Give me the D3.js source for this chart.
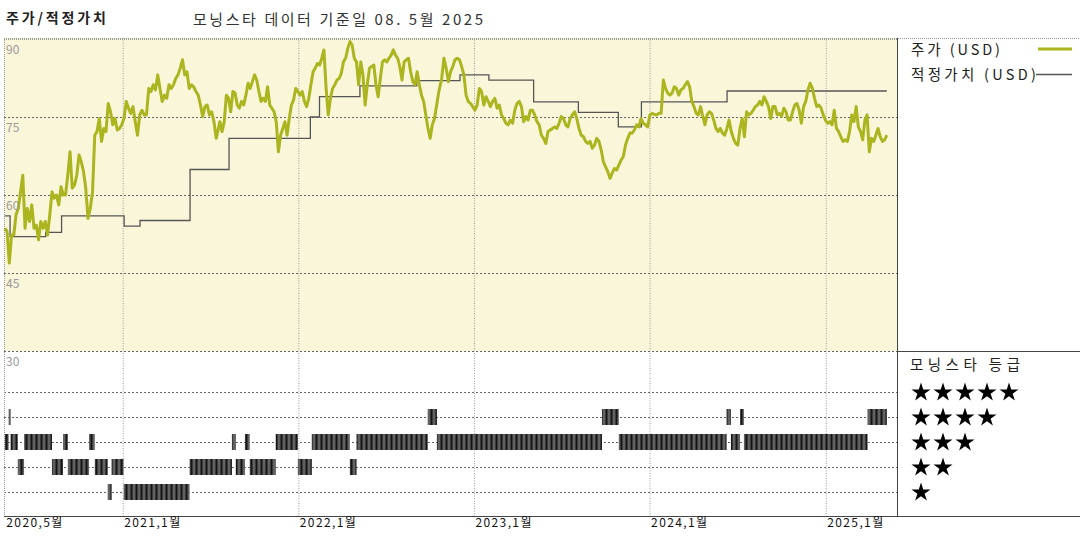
<!DOCTYPE html>
<html><head><meta charset="utf-8">
<script src="https://cdn.jsdelivr.net/npm/d3@7"></script>
<style>
body{margin:0;background:#fff}
svg{display:block}
text{font-family:"Noto Sans CJK KR","DejaVu Sans",sans-serif}
</style>
</head><body>
<svg id="c" width="1080" height="540"></svg>
<script>
// ---------- DATA ----------
const chartTitle = "주가/적정가치";
const dataDateText = "모닝스타 데이터 기준일 08. 5월 2025";
const legendPrice = "주가 (USD)";
const legendFair = "적정가치 (USD)";
const ratingTitle = "모닝스타 등급";

const yTicks = [90, 75, 60, 45, 30];
const xTickDates = ["2020-05-01","2021-01-01","2022-01-01","2023-01-01","2024-01-01","2025-01-01"];
const xTickLabels = ["2020,5월","2021,1월","2022,1월","2023,1월","2024,1월","2025,1월"];

// price, read in four consecutive stretches (values evenly spaced in time inside each stretch)
const priceSegStart = ["2020-05-01","2021-07-22","2022-10-26","2024-01-25"];
const priceSegEnd   = ["2021-07-19","2022-10-20","2024-01-20","2025-05-08"];
const priceA = [53.6,53.0,46.9,52.3,52.3,56.2,57.4,60.6,63.8,53.6,57.4,54.9,58.1,53.6,54.2,51.4,54.9,53.6,54.9,52.3,
  56.2,60.6,59.4,60.0,58.1,61.6,60.0,60.0,63.8,68.3,61.3,61.9,63.8,67.7,66.4,64.5,61.3,55.5,57.4,60.6,
  71.5,72.2,74.7,70.3,72.8,72.2,77.6,76.0,73.5,74.7,72.5,72.8,73.5,74.7,78.0,76.7,75.7,77.0,74.1,71.5,
  75.4,76.3,75.4,75.4,80.5,79.9,81.2,80.2,83.1,80.5,78.0,79.2,78.6,81.2,80.5,81.2,82.4,83.1,84.4,86.0,
  83.1,83.7,80.5,81.2,80.8,79.9,79.2,77.3,75.1,77.0,77.3,75.4,76.0,74.1,70.9,72.8];
const priceB = [74.1,72.2,74.1,79.2,78.6,76.0,79.9,79.6,77.3,76.7,78.0,77.3,79.2,81.5,80.5,81.8,83.1,82.1,79.9,78.0,
  78.6,78.0,80.8,77.3,76.7,76.0,74.1,68.3,71.5,72.8,74.1,71.5,74.7,77.3,78.3,80.5,79.9,79.2,79.9,78.0,
  77.0,78.6,81.2,83.7,84.4,85.3,85.0,86.3,87.9,80.5,75.4,78.6,80.5,81.2,82.1,82.4,83.4,85.6,86.3,88.2,
  89.5,88.85,86.3,85.6,81.2,85.6,83.1,77.3,81.2,84.4,84.7,85.0,81.2,78.9,82.4,85.6,86.0,85.6,86.3,86.9,
  87.9,86.9,86.3,84.7,82.1,85.6,86.0,86.3,83.7,81.8,81.2,83.7,81.2,79.2,78.0,75.4,72.8,70.9,73.5,74.7,
  77.3,79.9];
const priceC = [82.4,86.3,84.4,81.8,83.7,84.7,86.0,86.3,86.0,84.7,83.1,79.2,78.0,77.6,77.0,76.3,77.3,80.5,79.9,77.3,
  78.9,78.0,77.0,78.0,78.6,76.7,77.3,75.4,74.7,73.8,73.5,74.4,73.8,76.3,77.6,78.0,77.0,74.1,75.1,74.4,
  76.3,76.3,75.4,74.1,73.5,71.5,70.9,69.9,72.2,72.5,72.8,73.1,72.8,73.8,75.1,74.7,73.5,73.1,74.7,75.4,
  76.0,74.7,72.8,71.5,71.2,70.3,69.9,70.3,69.0,69.6,70.9,70.3,68.7,66.4,65.4,64.5,63.2,64.2,65.1,64.8,
  65.8,66.7,67.4,69.6,70.9,71.9,71.9,72.5,73.5,73.1,74.7,73.8,73.5,73.1,75.4,75.7,75.5,75.4,75.7];
const priceD = [75.7,82.1,80.5,79.6,79.2,79.6,80.8,80.5,79.2,80.2,80.5,81.2,81.8,80.8,78.0,77.0,75.7,75.4,77.0,75.1,
  73.5,75.4,76.0,75.7,74.4,72.8,72.2,72.8,71.9,71.5,72.8,74.4,72.2,70.9,69.9,69.6,72.8,74.7,71.2,76.0,
  75.4,75.7,76.3,77.0,77.3,78.0,77.3,78.9,78.0,77.0,74.7,77.0,77.0,75.4,75.7,75.1,76.7,76.0,74.4,74.4,
  76.0,77.3,77.6,76.3,73.8,77.0,78.0,80.2,81.5,80.5,78.6,77.0,77.3,76.7,75.4,74.4,73.8,74.1,73.5,76.3,
  72.8,72.2,71.2,70.3,70.6,70.3,72.2,75.4,74.1,77.0,73.1,72.2,70.6,74.4,75.4,68.3,70.9,70.3,71.5,72.8,
  71.2,70.3,70.6,71.5];

// fair value (step line)
const fvDates  = ["2020-05-01","2020-05-12","2020-07-25","2020-08-27","2021-01-04","2021-02-06","2021-05-21","2021-08-10",
  "2022-01-26","2022-02-14","2022-05-09","2022-09-04","2022-12-03","2023-02-01","2023-05-05","2023-08-06","2023-10-28",
  "2023-12-15","2024-06-10","2025-05-08"];
const fvValues = [56.0,52.0,52.8,56.0,54.0,55.1,64.9,70.9,75.0,78.9,81.0,82.0,83.1,82.1,77.9,75.9,73.1,77.9,80.0,80.0];

// star rating history: rating in force from each date to the next
const ratingDates = ["2020-05-01","2020-05-09","2020-05-13","2020-05-28","2020-06-10","2020-08-07","2020-08-30","2020-09-09",
  "2020-10-23","2020-11-04","2020-12-01","2020-12-09","2021-01-03","2021-05-20","2021-08-16","2021-08-24","2021-09-12",
  "2021-09-22","2021-11-15","2021-12-31","2022-01-29","2022-04-18","2022-05-02","2022-09-27","2022-10-16","2023-09-24",
  "2023-10-29","2024-06-09","2024-06-18","2024-07-07","2024-07-15","2025-03-29"];
const ratingValues = [3,4,3,2,3,2,3,2,3,2,1,2,1,2,3,2,3,2,3,2,3,2,3,4,3,4,3,4,3,4,3,4];
const ratingEnd = "2025-05-08";
const starRows = [5,4,3,2,1];

// ---------- CHART ----------
const parse = d3.utcParse("%Y-%m-%d");
const svg = d3.select("#c");
const L = 4, R = 897, T = 38, PB = 351, B = 516;

const x = d3.scaleUtc().domain([parse("2020-05-01"), parse("2025-05-25")]).range([4.8, 895]);
const y = d3.scaleLinear().domain([30, 90]).range([351, 39]);
const ry = d3.scaleLinear().domain([1, 5]).range([492, 392]);

// pattern for rating bars
const defs = svg.append("defs");
const pat = defs.append("pattern").attr("id","stripe").attr("patternUnits","userSpaceOnUse")
  .attr("width",5).attr("height",20);
pat.append("rect").attr("width",5).attr("height",20).attr("fill","#3a3a3a");
pat.append("rect").attr("x",3.6).attr("width",0.8).attr("height",20).attr("fill","#9a9a9a");
pat.append("rect").attr("x",1).attr("width",1).attr("height",20).attr("fill","#151515");

// backgrounds
svg.append("rect").attr("x",L).attr("y",T).attr("width",R-L).attr("height",PB-T).attr("fill","#faf6da");

// horizontal price gridlines
const gy = svg.append("g").attr("transform",`translate(${L},0)`)
  .call(d3.axisRight(y).tickValues(yTicks).tickSize(R-L).tickFormat(""));
gy.select(".domain").remove();
gy.selectAll(".tick line").attr("stroke", d => d===90 ? "#999" : "#666")
  .attr("stroke-dasharray", d => d===90 ? "1,1" : "2,2");

// rating row lines
const gr = svg.append("g").attr("transform",`translate(${L},0)`)
  .call(d3.axisRight(ry).tickValues(starRows).tickSize(R-L).tickFormat(""));
gr.select(".domain").remove();
gr.selectAll(".tick line").attr("stroke","#666").attr("stroke-dasharray","2,2");

// vertical gridlines
const gx = svg.append("g").attr("transform",`translate(0,${T})`)
  .call(d3.axisBottom(x).tickValues(xTickDates.slice(1).map(parse)).tickSize(B-T).tickFormat(""));
gx.select(".domain").remove();
gx.selectAll(".tick line").attr("stroke","#999").attr("stroke-dasharray","1,1.5");

// top dotted line across whole width & left border
svg.append("line").attr("x1",L).attr("x2",1080).attr("y1",T+0.5).attr("y2",T+0.5)
  .attr("stroke","#999").attr("stroke-dasharray","1,1");
svg.append("line").attr("x1",L+0.5).attr("x2",L+0.5).attr("y1",T).attr("y2",B)
  .attr("stroke","#999").attr("stroke-dasharray","1,1");

// fair value line
const fv = fvDates.map((d,i)=>({d:parse(d), v:fvValues[i]}));
svg.append("path").datum(fv)
  .attr("d", d3.line().x(p=>x(p.d)).y(p=>y(p.v)).curve(d3.curveStepAfter))
  .attr("fill","none").attr("stroke","#555").attr("stroke-width",1.3);

// price line
const segs = [priceA, priceB, priceC, priceD];
let price = [];
segs.forEach((arr,k)=>{
  const t0 = parse(priceSegStart[k]).getTime(), t1 = parse(priceSegEnd[k]).getTime();
  arr.forEach((v,i)=>price.push({d:new Date(t0 + (t1-t0)*i/(arr.length-1)), v}));
});
svg.append("path").datum(price)
  .attr("d", d3.line().x(p=>x(p.d)).y(p=>y(p.v)))
  .attr("fill","none").attr("stroke","#abb51f").attr("stroke-width",3).attr("stroke-linejoin","round");

// rating bars
const rt = ratingDates.map((d,i)=>({s:parse(d), e:parse(i<ratingDates.length-1?ratingDates[i+1]:ratingEnd), r:ratingValues[i]}));
svg.append("g").selectAll("rect").data(rt).join("rect")
  .attr("x", d=>x(d.s)).attr("width", d=>Math.max(1.5, x(d.e)-x(d.s)))
  .attr("y", d=>ry(d.r)-8).attr("height",16).attr("fill","url(#stripe)");

// frame lines
svg.append("line").attr("x1",R+0.5).attr("x2",R+0.5).attr("y1",T).attr("y2",B).attr("stroke","#444");
svg.append("line").attr("x1",R).attr("x2",1080).attr("y1",PB+0.5).attr("y2",PB+0.5).attr("stroke","#444");
svg.append("line").attr("x1",L).attr("x2",1080).attr("y1",B+0.5).attr("y2",B+0.5).attr("stroke","#444");

// y labels
svg.append("g").selectAll("text").data(yTicks).join("text")
  .attr("x",6).attr("y",d=>y(d)+15).attr("font-size",12).attr("fill","#999").text(d=>d);

// x labels
const ax = svg.append("g").attr("transform",`translate(0,${B})`)
  .call(d3.axisBottom(x).tickValues(xTickDates.map(parse)).tickSize(0).tickFormat((d,i)=>xTickLabels[i]));
ax.select(".domain").remove();
ax.selectAll("text").attr("text-anchor","start").attr("dx",1).attr("dy",0).attr("y",11)
  .attr("font-size",12).attr("fill","#111").attr("textLength",56).attr("lengthAdjust","spacing")
  .style("font-family",'"Noto Sans CJK KR",sans-serif');

// titles
svg.append("text").attr("x",6).attr("y",23).attr("font-size",14).attr("font-weight","bold").attr("fill","#222")
  .attr("textLength",100).attr("lengthAdjust","spacing").text(chartTitle);
svg.append("text").attr("x",193).attr("y",25).attr("font-size",15).attr("fill","#333")
  .attr("textLength",290).attr("lengthAdjust","spacing").text(dataDateText);

// legend
svg.append("text").attr("x",911).attr("y",55).attr("font-size",14.5).attr("fill","#222")
  .attr("textLength",89).attr("lengthAdjust","spacing").text(legendPrice);
svg.append("line").attr("x1",1038).attr("x2",1072).attr("y1",49).attr("y2",49).attr("stroke","#abb51f").attr("stroke-width",3);
svg.append("text").attr("x",911).attr("y",80).attr("font-size",14.5).attr("fill","#222")
  .attr("textLength",125).attr("lengthAdjust","spacing").text(legendFair);
svg.append("line").attr("x1",1036).attr("x2",1072).attr("y1",74.5).attr("y2",74.5).attr("stroke","#555").attr("stroke-width",1.3);

// rating legend
svg.append("text").attr("x",910).attr("y",370).attr("font-size",14.5).attr("fill","#222")
  .attr("textLength",110).attr("lengthAdjust","spacing").text(ratingTitle);
const star = d3.symbol().type(d3.symbolStar).size(112);
starRows.forEach(r=>{
  svg.append("g").selectAll("path").data(d3.range(r)).join("path")
    .attr("d", star).attr("transform", i=>`translate(${921+22*i},${ry(r)+0.5})`).attr("fill","#000");
});
</script>
</body></html>
